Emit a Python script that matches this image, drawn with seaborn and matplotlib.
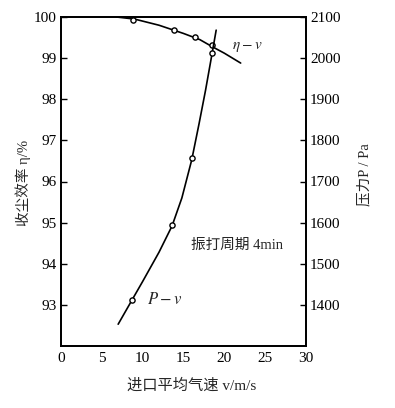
import matplotlib
matplotlib.use("Agg")
import matplotlib.pyplot as plt
import seaborn as sns
import pandas as pd

# ---- data ----
eta_pts_v = [8.8, 13.8, 16.4, 18.5]
eta_pts = [99.93, 99.68, 99.51, 99.33]
eta_curve_v = [6.8, 9.0, 12.0, 15.0, 17.0, 18.5, 20.0, 22.0]
eta_curve = [100.0, 99.95, 99.8, 99.6, 99.45, 99.28, 99.12, 98.88]

p_pts_v = [8.7, 13.6, 16.0, 18.5]
p_pts = [1412, 1595, 1756, 2012]
p_curve_v = [7.0, 8.7, 10.0, 12.0, 13.6, 14.8, 16.0, 16.9, 17.7, 18.4, 19.0]
p_curve = [1353, 1412, 1457, 1528, 1592, 1660, 1752, 1840, 1922, 2000, 2068]

x_ticks = [0, 5, 10, 15, 20, 25, 30]
eta_ticks = [93, 94, 95, 96, 97, 98, 99, 100]
p_ticks = [1400, 1500, 1600, 1700, 1800, 1900, 2000, 2100]

sns.set_theme(style="white")
plt.rcParams['font.family'] = ['Liberation Serif', 'Noto Sans CJK SC', 'DejaVu Sans']
plt.rcParams['mathtext.fontset'] = 'stix'

fig = plt.figure(figsize=(3.95, 4.08), dpi=100)
ax = fig.add_axes([61/395, 1-346/408, (306-61)/395, (346-17)/408])
ax2 = ax.twinx()

df_ec = pd.DataFrame({'v': eta_curve_v, 'eta': eta_curve})
df_ep = pd.DataFrame({'v': eta_pts_v, 'eta': eta_pts})
df_pc = pd.DataFrame({'v': p_curve_v, 'P': p_curve})
df_pp = pd.DataFrame({'v': p_pts_v, 'P': p_pts})

sns.lineplot(data=df_ec, x='v', y='eta', ax=ax, color='black', lw=1.2, sort=False)
sns.scatterplot(data=df_ep, x='v', y='eta', ax=ax, marker='o', s=14,
                facecolor='white', edgecolor='black', linewidth=1.0, zorder=5)
sns.lineplot(data=df_pc, x='v', y='P', ax=ax2, color='black', lw=1.2, sort=False)
sns.scatterplot(data=df_pp, x='v', y='P', ax=ax2, marker='o', s=14,
                facecolor='white', edgecolor='black', linewidth=1.0, zorder=5)

ax.set_xlim(0, 30)
ax.set_ylim(92, 100)
ax2.set_ylim(1300, 2100)
ax.set_xticks(x_ticks)
ax.set_yticks(eta_ticks)
ax2.set_yticks(p_ticks)
ax.set_xticklabels([str(t) for t in x_ticks])
ax.set_yticklabels([str(t) for t in eta_ticks])
ax2.set_yticklabels([str(t) for t in p_ticks])
ax.set_xlabel('')
ax.set_ylabel('')
ax2.set_ylabel('')

for a in (ax, ax2):
    a.tick_params(direction='in', length=4, width=1, labelsize=11, colors='black', pad=3)
    for s in a.spines.values():
        s.set_color('black')
        s.set_linewidth(1.3)
ax.tick_params(axis='x', pad=4)

ax.text(20.9, 99.26, r'$\eta-v$', fontsize=11, ha='left', va='center')
ax.text(12.7, 93.12, r'$P-v$', fontsize=12, ha='center', va='center')
ax.text(21.6, 94.44, '振打周期 4min', fontsize=10.5, ha='center', va='center')

fig.text(192/395, 1-385/408, '进口平均气速 v/m/s', fontsize=11, ha='center', va='center')
fig.text(23/395, 1-183/408, '收尘效率 η/%', fontsize=10.5, ha='center', va='center', rotation=90)
fig.text(365/395, 1-175/408, '压力P / Pa', fontsize=10.5, ha='center', va='center', rotation=90)

fig.savefig('out.png', dpi=100)
